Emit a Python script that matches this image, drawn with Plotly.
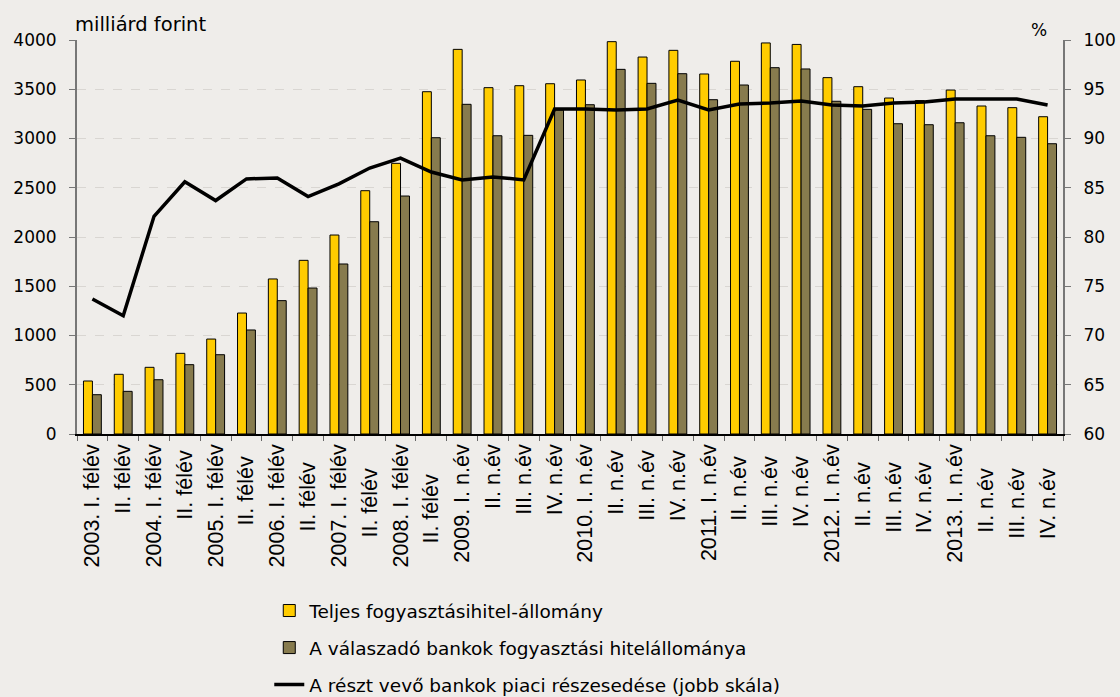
import plotly.graph_objects as go

categories = [
    "2003. I. félév", "II. félév", "2004. I. félév", "II. félév ",
    "2005. I. félév", "II. félév  ", "2006. I. félév", "II. félév   ",
    "2007. I. félév", "II. félév    ", "2008. I. félév", "II. félév     ",
    "2009. I. n.év", "II. n.év", "III. n.év", "IV. n.év",
    "2010. I. n.év", "II. n.év ", "III. n.év ", "IV. n.év ",
    "2011. I. n.év", "II. n.év  ", "III. n.év  ", "IV. n.év  ",
    "2012. I. n.év", "II. n.év   ", "III. n.év   ", "IV. n.év   ",
    "2013. I. n.év", "II. n.év    ", "III. n.év    ", "IV. n.év    ",
]

teljes = [538, 606, 677, 819, 964, 1228, 1574, 1763, 2020, 2470, 2748, 3475,
          3905, 3516, 3536, 3556, 3594, 3983, 3827, 3895, 3655, 3784, 3970, 3955,
          3618, 3526, 3411, 3385, 3492, 3330, 3313, 3221]

valaszado = [399, 433, 551, 704, 805, 1056, 1354, 1482, 1726, 2155, 2416, 3008,
             3347, 3028, 3032, 3289, 3343, 3702, 3560, 3658, 3394, 3543, 3719, 3706,
             3378, 3296, 3150, 3140, 3160, 3028, 3012, 2947]

reszesedes = [73.7, 72.0, 82.1, 85.6, 83.7, 85.9, 86.0, 84.1, 85.4, 87.0, 88.0, 86.6,
              85.8, 86.1, 85.8, 93.0, 93.0, 92.9, 93.0, 93.9, 92.9, 93.5, 93.6, 93.8,
              93.4, 93.3, 93.6, 93.7, 94.0, 94.0, 94.0, 93.4]

name1 = "Teljes fogyasztásihitel-állomány"
name2 = "A válaszadó bankok fogyasztási hitelállománya"
name3 = "A részt vevő bankok piaci részesedése (jobb skála)"

BG = "#EFEDEA"

fig = go.Figure()
fig.add_trace(go.Bar(x=categories, y=teljes, name=name1, legendgroup="a",
                     marker=dict(color="#FFCC00", line=dict(color="#000000", width=1))))
fig.add_trace(go.Bar(x=categories, y=valaszado, name=name2, legendgroup="b",
                     marker=dict(color="#877B4E", line=dict(color="#000000", width=1))))
fig.add_trace(go.Scatter(x=categories, y=reszesedes, name=name3, legendgroup="c",
                         mode="lines", yaxis="y2",
                         line=dict(color="#000000", width=3.5)))

fig.update_layout(
    width=1120, height=697,
    paper_bgcolor=BG, plot_bgcolor=BG,
    margin=dict(l=77, r=57, t=40, b=263, autoexpand=False),
    barmode="group", bargap=0.42, bargroupgap=0,
    font=dict(family="DejaVu Sans", size=17, color="#000000"),
    showlegend=True,
    legend=dict(orientation="v", x=0.195, xanchor="left", y=-0.401, yanchor="top",
                bgcolor="rgba(0,0,0,0)", font=dict(family="DejaVu Sans", size=18.5),
                tracegroupgap=10, itemwidth=30),
    xaxis=dict(
        type="category", tickangle=-90, tickson="boundaries",
        ticks="outside", ticklen=5, tickcolor="#666666",
        showline=True, linecolor="#000000", linewidth=1.5,
        tickfont=dict(family="Liberation Sans", size=21.5),
        showgrid=False, range=[-0.5, 31.5], automargin=False,
    ),
    yaxis=dict(
        range=[0, 4000], dtick=500, ticks="outside", ticklen=6, tickcolor="#777777",
        showline=True, linecolor="#777777", linewidth=2,
        showgrid=True, gridcolor="#D9D6D2", griddash="dash", gridwidth=1,
        zeroline=False, tickfont=dict(size=17), ticklabelstandoff=9,
        automargin=False,
    ),
    yaxis2=dict(
        range=[60, 100], dtick=5, overlaying="y", side="right",
        ticks="outside", ticklen=6, tickcolor="#777777",
        showline=True, linecolor="#777777", linewidth=2,
        showgrid=False, zeroline=False, tickfont=dict(size=17), ticklabelstandoff=9,
        automargin=False,
    ),
    annotations=[
        dict(text="milliárd forint", xref="paper", yref="paper", x=0, y=1,
             xanchor="left", yanchor="bottom", showarrow=False, yshift=2, xshift=-4,
             font=dict(size=19.5)),
        dict(text="%", xref="paper", yref="paper", x=0.9757, y=1,
             xanchor="center", yanchor="bottom", showarrow=False, yshift=-2,
             font=dict(size=17)),
    ],
)

fig.write_html("out.html",
               config={"displayModeBar": False},
               post_script="document.body.style.margin='0px';document.body.style.background='" + BG + "';")
